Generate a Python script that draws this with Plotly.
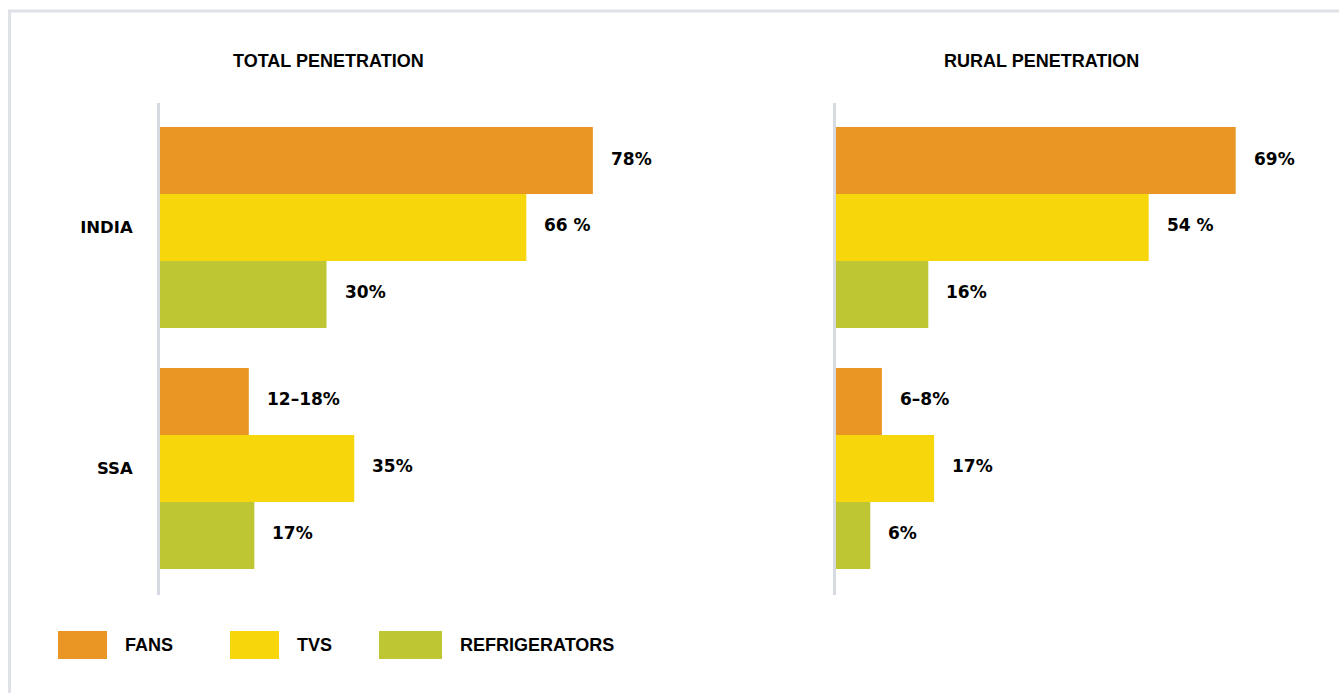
import plotly.graph_objects as go

# ---- data ----
regions = ["INDIA", "SSA"]
series_names = ["FANS", "TVS", "REFRIGERATORS"]
series_colors = ["#E99624", "#F7D60B", "#BEC733"]

total_fans = [78, 16]
total_tvs = [66, 35]
total_fridges = [30, 17]
total_fans_text = ["78%", "12–18%"]
total_tvs_text = ["66 %", "35%"]
total_fridges_text = ["30%", "17%"]

rural_fans = [69, 8]
rural_tvs = [54, 17]
rural_fridges = [16, 6]
rural_fans_text = ["69%", "6–8%"]
rural_tvs_text = ["54 %", "17%"]
rural_fridges_text = ["16%", "6%"]

panel_titles = ["TOTAL PENETRATION", "RURAL PENETRATION"]

# ---- page geometry ----
W, H = 1339, 693
BARGAP = 0.166


def px(x):
    return x / W


def py(y):
    return 1 - y / H


VALUE_FONT = dict(family="DejaVu Sans", size=17, color="#000000", weight="bold")
HEAD_FONT = dict(family="Liberation Sans", size=18, color="#000000", weight="bold")
AXIS_LINE = "#D6DBE1"

fig = go.Figure()

panels = [
    ("x", "y", [total_fans, total_tvs, total_fridges],
     [total_fans_text, total_tvs_text, total_fridges_text]),
    ("x2", "y2", [rural_fans, rural_tvs, rural_fridges],
     [rural_fans_text, rural_tvs_text, rural_fridges_text]),
]

annotations = []
bar_w = (1 - BARGAP) / len(series_names)
for xa, ya, values, texts in panels:
    for j, name in enumerate(series_names):
        fig.add_trace(go.Bar(
            x=values[j], y=regions, orientation="h", name=name,
            marker=dict(color=series_colors[j], line=dict(width=0)),
            xaxis=xa, yaxis=ya, showlegend=False, hoverinfo="x+y",
        ))
        offset = (j - (len(series_names) - 1) / 2) * bar_w
        for i, (v, t) in enumerate(zip(values[j], texts[j])):
            annotations.append(dict(
                x=v, y=i + offset, xref=xa, yref=ya, text=t,
                showarrow=False, xanchor="left", yanchor="middle",
                xshift=16, yshift=2, font=VALUE_FONT,
            ))

# panel headings
for title, cx in zip(panel_titles, [328.5, 1041.5]):
    annotations.append(dict(
        x=px(cx), y=py(61), xref="paper", yref="paper", text=title,
        showarrow=False, xanchor="center", yanchor="middle", font=HEAD_FONT,
    ))

# legend drawn as swatches + labels
legend_boxes = [(58, 107), (230, 279), (379, 442)]
shapes = []
for name, color, (x0, x1) in zip(series_names, series_colors, legend_boxes):
    shapes.append(dict(
        type="rect", xref="paper", yref="paper",
        x0=px(x0), x1=px(x1), y0=py(659), y1=py(631),
        fillcolor=color, line=dict(width=0),
    ))
    annotations.append(dict(
        x=px(x1 + 16), y=py(645), xref="paper", yref="paper", text=name,
        showarrow=False, xanchor="left", yanchor="middle", font=HEAD_FONT,
    ))

# light frame around the graphic
shapes.append(dict(
    type="rect", xref="paper", yref="paper",
    x0=px(9.5), x1=px(W + 20), y0=py(H + 20), y1=py(11),
    line=dict(color="#DEE2E7", width=3), fillcolor="rgba(0,0,0,0)",
    layer="below",
))

y_range = [1.525, -0.5166]
x_common = dict(showgrid=False, zeroline=False, showticklabels=False,
                showline=False, ticks="", fixedrange=True)
y_common = dict(type="category", range=y_range, showgrid=False,
                zeroline=False, showline=True, linecolor=AXIS_LINE,
                linewidth=3, ticks="", fixedrange=True)

fig.update_layout(
    width=W, height=H,
    margin=dict(l=0, r=0, t=0, b=0),
    paper_bgcolor="white", plot_bgcolor="white",
    barmode="group", bargap=BARGAP, bargroupgap=0,
    xaxis=dict(domain=[px(160), px(715)], range=[0, 100], anchor="y", **x_common),
    xaxis2=dict(domain=[px(835.5), px(835.5 + 464)], range=[0, 80], anchor="y2", **x_common),
    yaxis=dict(domain=[py(595), py(103)], anchor="x", showticklabels=True,
               ticklabelstandoff=21,
               tickfont=dict(family="DejaVu Sans", size=16.5, color="#000000", weight="bold"),
               **y_common),
    yaxis2=dict(domain=[py(595), py(103)], anchor="x2", showticklabels=False, **y_common),
    annotations=annotations,
    shapes=shapes,
    showlegend=False,
)

fig.write_html("out.html")
